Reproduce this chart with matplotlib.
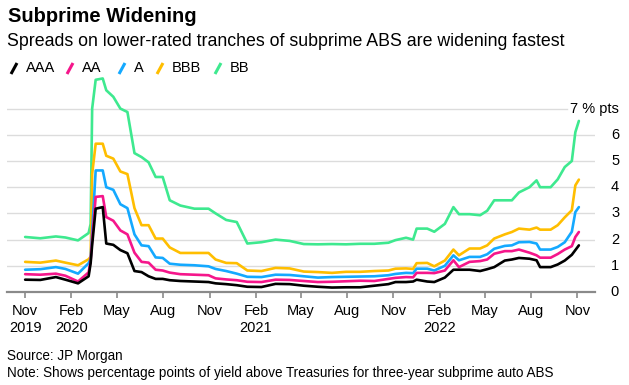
import numpy as np
import pandas as pd
import matplotlib
matplotlib.use('Agg')
import matplotlib.pyplot as plt
import matplotlib.dates as mdates
from matplotlib.lines import Line2D

plt.rcParams['font.family'] = ['Liberation Sans', 'DejaVu Sans']

dates = pd.to_datetime([
    '2019-11-01', '2019-12-01', '2020-01-01', '2020-01-20', '2020-02-14',
    '2020-03-06', '2020-03-10', '2020-03-13', '2020-03-20', '2020-04-03',
    '2020-04-10', '2020-04-24', '2020-05-08', '2020-05-22', '2020-06-05',
    '2020-06-19', '2020-07-03', '2020-07-17', '2020-07-31', '2020-08-14',
    '2020-09-04',
    '2020-10-02', '2020-10-30', '2020-11-13', '2020-12-04', '2020-12-25',
    '2021-01-15', '2021-02-12', '2021-03-12', '2021-04-09', '2021-05-07',
    '2021-06-04', '2021-07-02', '2021-07-30', '2021-08-27', '2021-09-24',
    '2021-10-22', '2021-11-05', '2021-11-26', '2021-12-10', '2021-12-17',
    '2022-01-07', '2022-01-21', '2022-02-11', '2022-02-28', '2022-03-11',
    '2022-04-01', '2022-04-22', '2022-05-06', '2022-05-20', '2022-06-10',
    '2022-06-24', '2022-07-08', '2022-07-29', '2022-08-12', '2022-08-19',
    '2022-09-09', '2022-09-23', '2022-10-07', '2022-10-21', '2022-10-28',
    '2022-11-04',
])

aaa = [0.47, 0.46, 0.57, 0.47, 0.33, 0.60, 1.10, 1.80, 3.18, 3.24,
       1.85, 1.80, 1.60, 1.48, 0.80, 0.76, 0.60, 0.50, 0.50, 0.45,
       0.42,
       0.40, 0.38, 0.33, 0.30, 0.26, 0.20, 0.19, 0.31, 0.30, 0.24,
       0.20, 0.17, 0.18, 0.18, 0.24, 0.30, 0.38, 0.38, 0.40, 0.47,
       0.40, 0.38, 0.55, 0.85, 0.85, 0.85, 0.80, 0.87, 0.95, 1.20,
       1.24, 1.30, 1.27, 1.21, 0.95, 0.95, 1.05, 1.20, 1.42, 1.60,
       1.78]
aa = [0.68, 0.66, 0.70, 0.62, 0.40, 0.75, 1.20, 2.00, 3.63, 3.66,
      2.86, 2.72, 2.35, 2.20, 1.50, 1.15, 1.12, 0.85, 0.82, 0.74,
      0.68,
      0.66, 0.64, 0.52, 0.48, 0.45, 0.39, 0.38, 0.47, 0.46, 0.42,
      0.38, 0.39, 0.41, 0.43, 0.42, 0.50, 0.54, 0.57, 0.56, 0.73,
      0.73, 0.72, 0.82, 1.21, 0.95, 1.15, 1.18, 1.24, 1.46, 1.56,
      1.56, 1.62, 1.50, 1.40, 1.31, 1.31, 1.45, 1.62, 1.75, 2.10,
      2.29]
a = [0.85, 0.87, 0.95, 0.88, 0.70, 1.10, 1.27, 2.30, 4.64, 4.64,
     4.00, 3.90, 3.35, 3.20, 2.20, 1.78, 1.75, 1.32, 1.30, 1.08,
     1.04,
     1.02, 0.98, 0.88, 0.80, 0.70, 0.58, 0.57, 0.66, 0.65, 0.60,
     0.55, 0.57, 0.58, 0.59, 0.60, 0.64, 0.69, 0.73, 0.72, 0.89,
     0.89, 0.82, 1.00, 1.40, 1.21, 1.34, 1.34, 1.44, 1.65, 1.76,
     1.78, 1.90, 1.91, 1.85, 1.62, 1.62, 1.72, 1.90, 2.30, 3.05,
     3.24]
bbb = [1.15, 1.12, 1.20, 1.12, 1.02, 1.25, 1.35, 4.50, 5.66, 5.66,
       5.20, 5.09, 4.60, 4.50, 3.20, 2.55, 2.55, 2.04, 2.04, 1.70,
       1.49,
       1.49, 1.49, 1.24, 1.11, 1.10, 0.82, 0.80, 0.92, 0.90, 0.78,
       0.76, 0.73, 0.77, 0.77, 0.80, 0.82, 0.89, 0.90, 0.88, 1.10,
       1.11, 0.98, 1.20, 1.62, 1.40, 1.66, 1.66, 1.78, 2.04, 2.20,
       2.29, 2.42, 2.38, 2.46, 2.38, 2.38, 2.55, 2.85, 3.12, 4.07,
       4.29]
bb = [2.10, 2.05, 2.12, 2.08, 1.97, 2.25, 2.60, 7.00, 8.10, 8.15,
      7.70, 7.45, 7.00, 6.87, 5.30, 5.15, 4.95, 4.39, 4.39, 3.50,
      3.30,
      3.18, 3.18, 3.00, 2.75, 2.67, 1.85, 1.90, 2.00, 1.95, 1.83,
      1.82, 1.83, 1.82, 1.84, 1.84, 1.88, 1.98, 2.07, 2.00, 2.42,
      2.42, 2.30, 2.60, 3.24, 2.97, 2.97, 2.93, 3.10, 3.50, 3.50,
      3.50, 3.80, 4.00, 4.26, 4.00, 4.00, 4.30, 4.77, 5.00, 6.10,
      6.53]

labels = ['AAA', 'AA', 'A', 'BBB', 'BB']
series = [aaa, aa, a, bbb, bb]
colors = ['#000000', '#f5168b', '#14a9ff', '#ffbe00', '#3ee98f']

yticks = [0, 1, 2, 3, 4, 5, 6, 7]
xticks = pd.date_range('2019-11-01', '2022-11-01', freq='3MS')

W, H = 629, 385
fig = plt.figure(figsize=(W / 100, H / 100), dpi=100)
ax = fig.add_axes([7 / W, 1 - 292 / H, 588 / W, 217 / H])

# gridlines (the top one stops short of its label)
for y in yticks[1:]:
    ax.axhline(y, xmin=0, xmax=0.953 if y == 7 else 1.0, color='#dcdcdc', lw=1.0, zorder=0)

# draw lowest-rated last so it sits on top like the original
for vals, c in zip(series[::-1], colors[::-1]):
    ax.plot(dates, vals, color=c, lw=1.9, solid_joinstyle='round', solid_capstyle='round', zorder=3)

ax.set_xlim(pd.Timestamp('2019-09-26'), pd.Timestamp('2022-12-06'))
ax.set_ylim(0, 217 / 26.2)

for s in ['top', 'left', 'right']:
    ax.spines[s].set_visible(False)
ax.spines['bottom'].set_color('#8a8a8a')
ax.spines['bottom'].set_linewidth(1.6)
ax.set_yticks([])

ax.set_xticks(xticks)
xlabels = []
for d in xticks:
    lab = d.strftime('%b')
    if d == xticks[0] or d.month == 2:
        lab += '\n' + str(d.year)
    xlabels.append(lab)
ax.set_xticklabels(xlabels, fontsize=10.5, linespacing=1.25, va='top')
ax.tick_params(axis='x', length=4.5, width=1.2, color='#8a8a8a', pad=4)

# right-side value labels
for y in yticks:
    txt = '7 % pts' if y == 7 else str(y)
    ax.text(1.041, y, txt, transform=ax.get_yaxis_transform(), ha='right', va='center', fontsize=10.5)

# title block
fig.text(8 / W, 1 - 16 / H, 'Subprime Widening', fontsize=14.5, fontweight='bold', va='center')
fig.text(7 / W, 1 - 42 / H, 'Spreads on lower-rated tranches of subprime ABS are widening fastest',
         fontsize=12.75, va='center')

# legend with slanted swatches
leg_x = [10, 66, 118, 156, 214]
for lx, lab, c in zip(leg_x, labels, colors):
    fig.add_artist(Line2D([(lx + 1) / W, (lx + 7) / W], [1 - 74 / H, 1 - 63 / H],
                          color=c, lw=2.2, solid_capstyle='butt'))
    fig.text((lx + 16) / W, 1 - 68.5 / H, lab, fontsize=10.5, va='center')

# footer
fig.text(7 / W, 1 - 356 / H, 'Source: JP Morgan', fontsize=9.75, va='center')
fig.text(7 / W, 1 - 373 / H,
         'Note: Shows percentage points of yield above Treasuries for three-year subprime auto ABS',
         fontsize=9.75, va='center')

fig.savefig('out.png', dpi=100)
